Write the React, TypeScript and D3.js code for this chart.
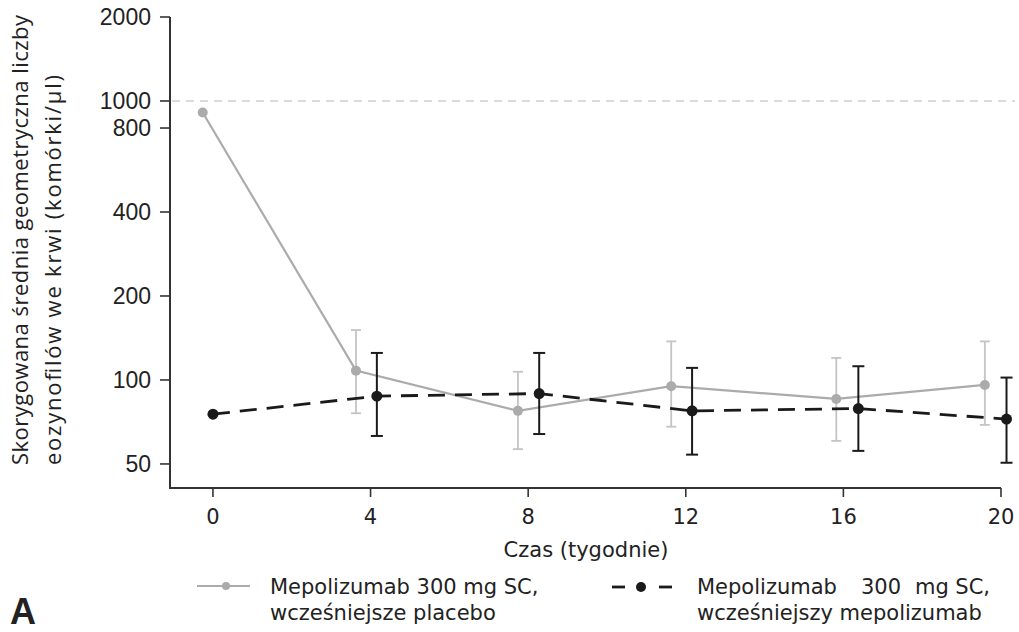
import React from "react";
import * as d3 from "d3";

const weekTicks = [0, 4, 8, 12, 16, 20];
const yTicks = [50, 100, 200, 400, 800, 1000, 2000];

// Series 1: Mepolizumab 300 mg SC, wcześniejsze placebo (grey)
const placeboX = [-0.26, 3.63, 7.74, 11.63, 15.82, 19.59];
const placeboMean = [909, 108, 77.5, 95, 85.5, 96];
const placeboLow = [null, 76, 56.5, 68, 60.5, 69];
const placeboHigh = [null, 151, 107, 137.5, 120, 137.5];

// Series 2: Mepolizumab 300 mg SC, wcześniejszy mepolizumab (black dashed)
const mepoX = [0, 4.16, 8.28, 12.16, 16.38, 20.14];
const mepoMean = [75.4, 87.5, 89.4, 77.5, 79, 72.4];
const mepoLow = [null, 63, 64, 54, 55.7, 50.5];
const mepoHigh = [null, 125, 125, 110.5, 112, 102];

const refValue = 1000;

const legend2Words = ["Mepolizumab", "300", "mg", "SC,"];

const W = 1019;
const H = 632;

export default function App() {
  const x = d3.scaleLinear().domain([-1.09, 20]).range([170, 1001]);
  const y = d3.scaleLog().domain([41, 2000]).range([488, 17]);

  const line = d3
    .line<[number, number]>()
    .x((d) => x(d[0]))
    .y((d) => y(d[1]));

  const pData: [number, number][] = placeboX.map((v, i) => [v, placeboMean[i]]);
  const mData: [number, number][] = mepoX.map((v, i) => [v, mepoMean[i]]);

  const greyLine = "#ababab";
  const greyBar = "#c4c4c4";
  const black = "#1a1a1a";
  const axisCol = "#333";
  const tickFont = "'DejaVu Sans', sans-serif";
  const legFont = "'DejaVu Sans', sans-serif";

  const wordPos = [
    { x: 697, anchor: "start" },
    { x: 881, anchor: "middle" },
    { x: 932, anchor: "middle" },
    { x: 990, anchor: "end" },
  ];

  const errBars = (
    xs: number[],
    lo: (number | null)[],
    hi: (number | null)[],
    color: string,
    sw: number,
    cap: number,
    key: string
  ) =>
    xs.map((xv, i) => {
      const l = lo[i];
      const h = hi[i];
      if (l == null || h == null) return null;
      const cx = x(xv);
      return (
        <g key={key + i} stroke={color} strokeWidth={sw}>
          <line x1={cx} x2={cx} y1={y(h)} y2={y(l)} />
          <line x1={cx - cap} x2={cx + cap} y1={y(h)} y2={y(h)} />
          <line x1={cx - cap} x2={cx + cap} y1={y(l)} y2={y(l)} />
        </g>
      );
    });

  return (
    <svg width={W} height={H} style={{ position: "absolute", left: 0, top: 0, background: "#fff" }}>
      <rect width={W} height={H} fill="#fff" />
      {/* reference line */}
      <line
        x1={172}
        x2={1015}
        y1={y(refValue)}
        y2={y(refValue)}
        stroke="#cfcfcf"
        strokeWidth={1.5}
        strokeDasharray="8,6"
      />

      {/* axes */}
      <line x1={170} x2={170} y1={y(2000)} y2={488} stroke={axisCol} strokeWidth={2} />
      <line x1={169} x2={x(20)} y1={488} y2={488} stroke={axisCol} strokeWidth={2} />
      {yTicks.map((t) => (
        <g key={"yt" + t}>
          <line x1={160} x2={170} y1={y(t)} y2={y(t)} stroke={axisCol} strokeWidth={1.6} />
          <text
            x={151}
            y={y(t)}
            dy="0.35em"
            textAnchor="end"
            fontFamily="'Liberation Sans', Arial, sans-serif"
            fontSize={23}
            fill="#222"
          >
            {t}
          </text>
        </g>
      ))}
      {weekTicks.map((t) => (
        <g key={"xt" + t}>
          <line x1={x(t)} x2={x(t)} y1={488} y2={497} stroke={axisCol} strokeWidth={1.6} />
          <text x={x(t)} y={524} textAnchor="middle" fontFamily={tickFont} fontSize={21} fill="#222">
            {t}
          </text>
        </g>
      ))}
      <text x={586} y={557} textAnchor="middle" fontFamily={tickFont} fontSize={21} fill="#222">
        Czas (tygodnie)
      </text>

      {/* y title */}
      <text
        transform="translate(28,465) rotate(-90)"
        fontFamily="'Open Sans', 'Noto Sans', sans-serif"
        fontSize={22}
        fill="#222"
        textLength={450}
        lengthAdjust="spacing"
      >
        Skorygowana średnia geometryczna liczby
      </text>
      <text
        transform="translate(61,465) rotate(-90)"
        fontFamily="'Open Sans', 'Noto Sans', sans-serif"
        fontSize={22}
        fill="#222"
        textLength={390}
        lengthAdjust="spacing"
      >
        eozynofilów we krwi (komórki/µl)
      </text>

      {/* grey series */}
      {errBars(placeboX, placeboLow, placeboHigh, greyBar, 1.8, 5, "pe")}
      <path d={line(pData) || ""} fill="none" stroke={greyLine} strokeWidth={2.2} />
      {pData.map((d, i) => (
        <circle key={"pc" + i} cx={x(d[0])} cy={y(d[1])} r={5} fill={greyLine} />
      ))}

      {/* black series */}
      {errBars(mepoX, mepoLow, mepoHigh, black, 2, 6, "me")}
      <path d={line(mData) || ""} fill="none" stroke={black} strokeWidth={2.8} strokeDasharray="17,10" />
      {mData.map((d, i) => (
        <circle key={"mc" + i} cx={x(d[0])} cy={y(d[1])} r={5.5} fill={black} />
      ))}

      {/* legend */}
      <line x1={197} x2={250} y1={586} y2={586} stroke={greyLine} strokeWidth={2.2} />
      <circle cx={226} cy={586} r={4} fill={greyLine} />
      <text x={270} y={594} fontFamily={legFont} fontSize={21} fill="#222">
        Mepolizumab 300 mg SC,
      </text>
      <text x={270} y={620} fontFamily={legFont} fontSize={21} fill="#222">
        wcześniejsze placebo
      </text>

      <line x1={612} x2={625} y1={587} y2={587} stroke={black} strokeWidth={2.8} />
      <line x1={659} x2={672} y1={587} y2={587} stroke={black} strokeWidth={2.8} />
      <circle cx={641} cy={587} r={5} fill={black} />
      {legend2Words.map((w, i) => (
        <text
          key={"lw" + i}
          x={wordPos[i].x}
          y={594}
          textAnchor={wordPos[i].anchor as any}
          fontFamily={legFont}
          fontSize={21}
          fill="#222"
        >
          {w}
        </text>
      ))}
      <text x={697} y={620} fontFamily={legFont} fontSize={21} fill="#222">
        wcześniejszy mepolizumab
      </text>

      <text x={10} y={624} fontFamily="'Liberation Sans', Arial, sans-serif" fontWeight="bold" fontSize={36} fill="#222">
        A
      </text>
    </svg>
  );
}
